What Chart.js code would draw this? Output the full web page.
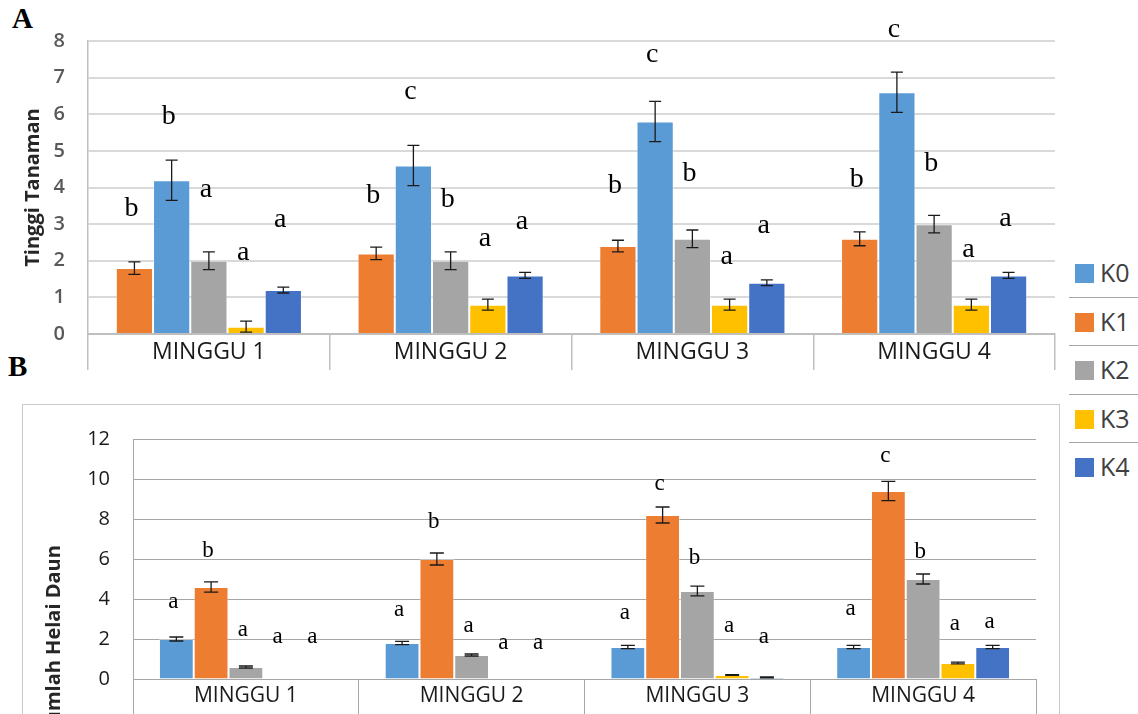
<!DOCTYPE html>
<html>
<head>
<meta charset="utf-8">
<script src="https://cdn.jsdelivr.net/npm/chart.js@4.4.1/dist/chart.umd.min.js"></script>
<style>
  body { margin: 0; background: #fff; width: 1138px; height: 714px; overflow: hidden; position: relative; font-family: 'Open Sans', sans-serif; }
  #chartA { position: absolute; left: 0; top: 0; }
  #boxB { position: absolute; left: 22px; top: 404px; width: 1038px; height: 400px; border: 1.5px solid #c9c9c9; box-sizing: border-box; }
  #chartB { position: absolute; left: 22px; top: 404px; }
  .panel { position: absolute; font-family: 'Liberation Serif', serif; font-weight: bold; font-size: 29px; color: #000; }
  #legend { position: absolute; left: 1069px; top: 249px; width: 69px; }
  #legend .item { height: 48.5px; position: relative; border-bottom: 1.5px solid #a6a6a6; box-sizing: border-box; }
  #legend .item:last-child { border-bottom: none; }
  #legend .sw { position: absolute; left: 6px; top: 15px; width: 19px; height: 19px; }
  #legend .lb { position: absolute; left: 31px; top: 6px; font-size: 25px; line-height: 34px; color: #404040; }
</style>
</head>
<body>
<div class="panel" style="left:12px;top:2px">A</div>
<div class="panel" style="left:8px;top:350px">B</div>
<div id="boxB"></div>
<canvas id="chartA" width="1065" height="372"></canvas>
<canvas id="chartB" width="1040" height="310"></canvas>
<div id="legend"></div>
<script>
const categories = ['MINGGU 1', 'MINGGU 2', 'MINGGU 3', 'MINGGU 4']
const seriesNames = ['K0', 'K1', 'K2', 'K3', 'K4']
const seriesColors = ['#5B9BD5', '#ED7D31', '#A5A5A5', '#FFC000', '#4472C4']

// A: Tinggi Tanaman
const tinggiK0 = [4.2, 4.6, 5.8, 6.6]
const tinggiK1 = [1.8, 2.2, 2.4, 2.6]
const tinggiK2 = [2.0, 2.0, 2.6, 3.0]
const tinggiK3 = [0.2, 0.8, 0.8, 0.8]
const tinggiK4 = [1.2, 1.6, 1.4, 1.6]
const tinggiErrK0 = [0.55, 0.55, 0.55, 0.55]
const tinggiErrK1 = [0.17, 0.17, 0.16, 0.19]
const tinggiErrK2 = [0.24, 0.24, 0.24, 0.24]
const tinggiErrK3 = [0.15, 0.15, 0.15, 0.15]
const tinggiErrK4 = [0.08, 0.08, 0.08, 0.08]
const tinggiHurufK0 = ['b', 'c', 'c', 'c']
const tinggiHurufK1 = ['b', 'b', 'b', 'b']
const tinggiHurufK2 = ['a', 'b', 'b', 'b']
const tinggiHurufK3 = ['a', 'a', 'a', 'a']
const tinggiHurufK4 = ['a', 'a', 'a', 'a']
// value at which each letter sits
const tinggiHurufAtK0 = [5.74, 6.42, 7.42, 8.12]
const tinggiHurufAtK1 = [3.22, 3.57, 3.84, 4.02]
const tinggiHurufAtK2 = [3.75, 3.48, 4.19, 4.45]
const tinggiHurufAtK3 = [2.02, 2.41, 1.91, 2.1]
const tinggiHurufAtK4 = [2.93, 2.88, 2.75, 2.96]
const tinggiTicks = [0, 1, 2, 3, 4, 5, 6, 7, 8]

// B: Jumlah Helai Daun
const daunK0 = [2.0, 1.8, 1.6, 1.6]
const daunK1 = [4.6, 6.0, 8.2, 9.4]
const daunK2 = [0.6, 1.2, 4.4, 5.0]
const daunK3 = [0, 0, 0.2, 0.8]
const daunK4 = [0, 0, 0.08, 1.6]
const daunErrK0 = [0.1, 0.08, 0.08, 0.08]
const daunErrK1 = [0.26, 0.3, 0.4, 0.48]
const daunErrK2 = [0.05, 0.05, 0.24, 0.25]
const daunErrK3 = [0, 0, 0.02, 0.04]
const daunErrK4 = [0, 0, 0.02, 0.08]
const daunHurufK0 = ['a', 'a', 'a', 'a']
const daunHurufK1 = ['b', 'b', 'c', 'c']
const daunHurufK2 = ['a', 'a', 'b', 'b']
const daunHurufK3 = ['a', 'a', 'a', 'a']
const daunHurufK4 = ['a', 'a', 'a', 'a']
const daunHurufAtK0 = [3.55, 3.14, 3.01, 3.18]
const daunHurufAtK1 = [6.08, 7.56, 9.47, 10.84]
const daunHurufAtK2 = [2.13, 2.34, 5.76, 6.05]
const daunHurufAtK3 = [1.78, 1.48, 2.37, 2.45]
const daunHurufAtK4 = [1.78, 1.48, 1.8, 2.56]
const daunTicks = [0, 2, 4, 6, 8, 10, 12]

Chart.defaults.font.family = "'Open Sans', sans-serif"

// error bars + significance letters
const annotate = {
    id: 'annotate',
    afterDatasetsDraw(chart, args, opts) {
        const c = chart.ctx
        const y = chart.scales.y
        chart.data.datasets.forEach((ds, i) => {
            const meta = chart.getDatasetMeta(i)
            meta.data.forEach((bar, j) => {
                const v = ds.data[j]
                const e = opts.errors[i][j]
                c.save()
                if (e > 0) {
                    const t = y.getPixelForValue(v + e)
                    const b = y.getPixelForValue(v - e)
                    c.strokeStyle = '#1a1a1a'
                    c.lineWidth = 1.3
                    c.beginPath()
                    c.moveTo(bar.x, t); c.lineTo(bar.x, b)
                    c.moveTo(bar.x - opts.cap, t); c.lineTo(bar.x + opts.cap, t)
                    c.moveTo(bar.x - opts.cap, b); c.lineTo(bar.x + opts.cap, b)
                    c.stroke()
                }
                c.fillStyle = '#000'
                c.font = opts.font
                c.textAlign = 'center'
                c.textBaseline = 'alphabetic'
                c.fillText(opts.letters[i][j], bar.x - 3, y.getPixelForValue(opts.letterAt[i][j]))
                c.restore()
            })
        })
        if (opts.vTitle) {
            c.save()
            c.translate(opts.vTitle.x, opts.vTitle.y)
            c.rotate(-Math.PI / 2)
            c.font = "bold 20px 'Open Sans'"
            c.fillStyle = '#262626'
            c.textAlign = 'center'
            c.textBaseline = 'middle'
            c.fillText(opts.vTitle.text, 0, 0)
            c.restore()
        }
    }
}

function makeDataset(idx, data) {
    return {
        label: seriesNames[idx],
        data: data,
        backgroundColor: seriesColors[idx],
        borderColor: 'rgba(255,255,255,0.35)',
        borderWidth: 1,
        categoryPercentage: 0.77,
        barPercentage: 1
    }
}

// panel A: bar order K1, K0, K2, K3, K4
const chartA = new Chart(document.getElementById('chartA'), {
    type: 'bar',
    data: {
        labels: categories,
        datasets: [
            makeDataset(1, tinggiK1),
            makeDataset(0, tinggiK0),
            makeDataset(2, tinggiK2),
            makeDataset(3, tinggiK3),
            makeDataset(4, tinggiK4)
        ]
    },
    options: {
        responsive: false,
        animation: false,
        layout: { padding: { left: 0, right: 10, top: 41, bottom: 0 } },
        plugins: {
            legend: { display: false },
            tooltip: { enabled: false },
            annotate: {
                errors: [tinggiErrK1, tinggiErrK0, tinggiErrK2, tinggiErrK3, tinggiErrK4],
                letters: [tinggiHurufK1, tinggiHurufK0, tinggiHurufK2, tinggiHurufK3, tinggiHurufK4],
                letterAt: [tinggiHurufAtK1, tinggiHurufAtK0, tinggiHurufAtK2, tinggiHurufAtK3, tinggiHurufAtK4],
                cap: 6,
                font: "28px 'Liberation Serif'"
            }
        },
        scales: {
            x: {
                grid: { offset: true, drawOnChartArea: false, tickLength: 36, color: '#bfbfbf', lineWidth: 1.5 },
                border: { color: '#bfbfbf', width: 2 },
                ticks: { padding: -31, color: '#1a1a1a', font: { size: 23 } },
                afterFit: s => { s.height = 38 }
            },
            y: {
                min: 0, max: 8,
                afterBuildTicks: s => { s.ticks = tinggiTicks.map(v => ({ value: v })) },
                grid: { drawTicks: false, color: ctx => ctx.tick.value === 0 ? '#bfbfbf' : '#d9d9d9', lineWidth: 2 },
                border: { color: '#bfbfbf', width: 1.5 },
                ticks: { padding: 23, color: '#595959', font: { size: 20, weight: '600' } },
                title: { display: true, text: 'Tinggi Tanaman', color: '#262626', font: { size: 20, weight: 'bold' }, padding: { top: 21, bottom: 0 } },
                afterFit: s => { s.width = 88 }
            }
        }
    },
    plugins: [annotate]
})

// panel B: bar order K0..K4
const chartB = new Chart(document.getElementById('chartB'), {
    type: 'bar',
    data: {
        labels: categories,
        datasets: [
            makeDataset(0, daunK0),
            makeDataset(1, daunK1),
            makeDataset(2, daunK2),
            makeDataset(3, daunK3),
            makeDataset(4, daunK4)
        ]
    },
    options: {
        responsive: false,
        animation: false,
        layout: { padding: { left: 0, right: 26, top: 27, bottom: 0 } },
        plugins: {
            legend: { display: false },
            tooltip: { enabled: false },
            annotate: {
                errors: [daunErrK0, daunErrK1, daunErrK2, daunErrK3, daunErrK4],
                letters: [daunHurufK0, daunHurufK1, daunHurufK2, daunHurufK3, daunHurufK4],
                letterAt: [daunHurufAtK0, daunHurufAtK1, daunHurufAtK2, daunHurufAtK3, daunHurufAtK4],
                cap: 7,
                font: "23px 'Liberation Serif'",
                vTitle: { text: 'Jumlah Helai Daun', x: 32, y: 234 }
            }
        },
        scales: {
            x: {
                grid: { offset: true, drawOnChartArea: false, tickLength: 40, color: '#a6a6a6', lineWidth: 1 },
                border: { color: '#a6a6a6', width: 1 },
                ticks: { padding: -36, color: '#1a1a1a', font: { size: 21 } },
                afterFit: s => { s.height = 35 }
            },
            y: {
                min: 0, max: 12,
                afterBuildTicks: s => { s.ticks = daunTicks.map(v => ({ value: v })) },
                grid: { drawTicks: false, color: '#a6a6a6', lineWidth: 1 },
                border: { color: '#a6a6a6', width: 1 },
                ticks: { padding: 23, color: '#1a1a1a', font: { size: 20 } },
                afterFit: s => { s.width = 111 }
            }
        }
    },
    plugins: [annotate]
})

// legend
const legend = document.getElementById('legend')
seriesNames.forEach((name, i) => {
    const item = document.createElement('div')
    item.className = 'item'
    item.innerHTML = '<div class="sw" style="background:' + seriesColors[i] + '"></div><div class="lb">' + name + '</div>'
    legend.appendChild(item)
})
</script>
</body>
</html>
